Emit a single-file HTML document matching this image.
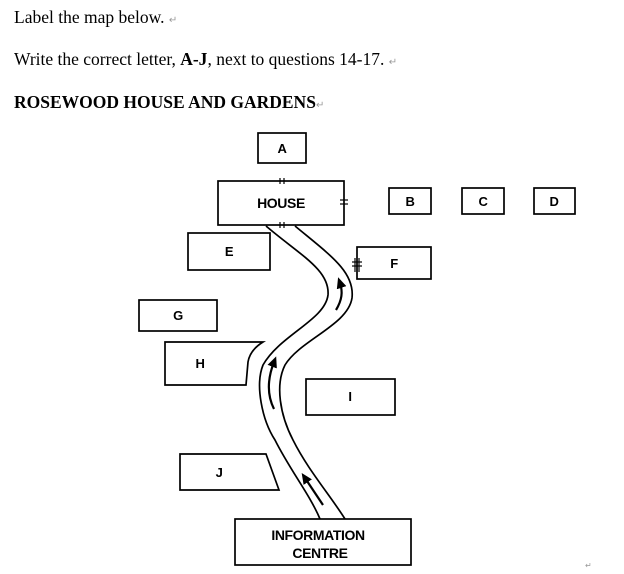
<!DOCTYPE html>
<html><head><style>
body{margin:0;width:624px;height:574px;background:#fff;overflow:hidden;position:relative;font-family:"Liberation Serif",serif;}
.t{position:absolute;left:14px;font-size:17.5px;color:#000;white-space:nowrap}
.r{color:#999;font-size:10px}
svg{position:absolute;left:0;top:0}
</style></head><body>
<div class="t" style="top:7px">Label the map below. <span class="r">↵</span></div>
<div class="t" style="top:49px">Write the correct letter, <b>A-J</b>, next to questions 14-17. <span class="r">↵</span></div>
<div class="t" style="top:92px"><b>ROSEWOOD HOUSE AND GARDENS</b><span class="r">↵</span></div>
<svg width="624" height="574" viewBox="0 0 624 574">
<defs><marker id="ah" markerWidth="12" markerHeight="12" refX="5" refY="5" orient="auto" markerUnits="userSpaceOnUse"><path d="M0,0 L11,5 L0,10 z" fill="#000"/></marker></defs>
<g fill="none" stroke="#000" stroke-width="1.7">
<rect x="258" y="133" width="48" height="30"/>
<rect x="218" y="181" width="126" height="44"/>
<rect x="389" y="188" width="42" height="26"/>
<rect x="462" y="188" width="42" height="26"/>
<rect x="534" y="188" width="41" height="26"/>
<rect x="188" y="233" width="82" height="37"/>
<rect x="357" y="247" width="74" height="32"/>
<rect x="139" y="300" width="78" height="31"/>
<path d="M165,342 L263,342 Q250,350 248,362 L246,385 L165,385 Z"/>
<rect x="306" y="379" width="89" height="36"/>
<path d="M180,454 L266,454 L279,490 L180,490 Z"/>
<rect x="235" y="519" width="176" height="46"/>
<path d="M266,226 C300,255 330,270 328,295 C325,320 280,335 263,365 C255,385 262,420 275,440 C290,470 310,495 320,519"/>
<path d="M295,226 C330,255 355,272 352,298 C348,325 300,340 285,365 C275,385 280,415 293,440 C308,470 330,495 345,519"/>
</g>
<g fill="none" stroke="#000" stroke-width="2.2">
<path d="M336,310 C342,300 343,292 340,283" marker-end="url(#ah)"/>
<path d="M274,409 C267,395 267,380 274,362" marker-end="url(#ah)"/>
<path d="M323,505 L305,478" marker-end="url(#ah)"/>
</g>
<g stroke="#000" stroke-width="1.2">
<line x1="280" y1="178" x2="280" y2="184"/><line x1="284" y1="178" x2="284" y2="184"/>
<line x1="280" y1="222" x2="280" y2="228"/><line x1="284" y1="222" x2="284" y2="228"/>
<line x1="340" y1="200" x2="348" y2="200"/><line x1="340" y1="204" x2="348" y2="204"/>
<line x1="352" y1="262" x2="362" y2="262"/><line x1="352" y1="266" x2="362" y2="266"/>
<line x1="355" y1="258" x2="355" y2="272"/><line x1="359" y1="258" x2="359" y2="272"/>
</g>
<g font-family="Liberation Sans,sans-serif" font-weight="bold" font-size="13" text-anchor="middle" fill="#000" letter-spacing="-0.4">
<text x="282" y="153">A</text>
<text x="281" y="208" font-size="14">HOUSE</text>
<text x="410" y="206">B</text>
<text x="483" y="206">C</text>
<text x="554" y="206">D</text>
<text x="229" y="256">E</text>
<text x="394" y="268">F</text>
<text x="178" y="320">G</text>
<text x="200" y="368">H</text>
<text x="350" y="401">I</text>
<text x="219" y="477">J</text>
<text x="318" y="540" font-size="14">INFORMATION</text>
<text x="320" y="558" font-size="14">CENTRE</text>
</g>
<text x="585" y="568" font-size="8" fill="#999">↵</text>
</svg>
</body></html>
